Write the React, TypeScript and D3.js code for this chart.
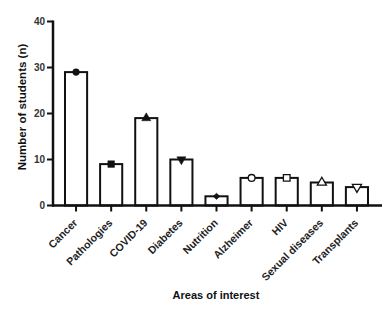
import React from "react";
import * as d3 from "d3";

const categories = ["Cancer", "Pathologies", "COVID-19", "Diabetes", "Nutrition", "Alzheimer", "HIV", "Sexual diseases", "Transplants"];
const values = [29, 9, 19, 10, 2, 6, 6, 5, 4];
const markers = ["circle", "square", "triangle", "triangleDown", "diamond", "circle", "square", "triangle", "triangleDown"];
const filled = [true, true, true, true, true, false, false, false, false];
const yTicks = [0, 10, 20, 30, 40];

const W = 386, H = 309;
const axisX = 53, axisY = 205.5, axisEnd = 382;

export default function App() {
  const x = d3.scaleBand<string>().domain(categories).range([58.5, 374.5]).paddingInner(0.37).paddingOuter(0.185);
  const y = d3.scaleLinear().domain([0, 40]).range([axisY, 21.5]);
  const bw = x.bandwidth();
  const font = "Liberation Sans, Arial, sans-serif";

  const markerPath = (type: string, cx: number, cy: number) => {
    const sym = {
      circle: d3.symbolCircle,
      square: d3.symbolSquare,
      triangle: d3.symbolTriangle,
      triangleDown: d3.symbolTriangle,
      diamond: d3.symbolDiamond,
    }[type] as d3.SymbolType;
    const size = type === "diamond" ? 20 : type.startsWith("triangle") ? 36 : type === "square" ? 44 : 36;
    const p = d3.symbol().type(sym).size(size)() as string;
    const rot = type === "triangleDown" ? 180 : 0;
    const sc = type === "diamond" ? "scale(1.4,0.75)" : "";
    return { p, transform: `translate(${cx},${cy}) rotate(${rot}) ${sc}` };
  };

  return (
    <svg width={W} height={H} style={{ position: "absolute", left: 0, top: 0, background: "#fff" }} fontFamily={font}>
      {categories.map((c, i) => {
        const x0 = x(c)!;
        const yv = y(values[i]);
        return (
          <rect key={c} x={x0} y={yv} width={bw} height={axisY - yv} fill="#fff" stroke="#111" strokeWidth={2} />
        );
      })}
      {categories.map((c, i) => {
        const cx = x(c)! + bw / 2;
        const cy = y(values[i]);
        const m = markerPath(markers[i], cx, cy);
        return (
          <path key={"m" + c} d={m.p} transform={m.transform} fill={filled[i] ? "#111" : "#fff"} stroke="#111" strokeWidth={filled[i] ? 0.5 : 1.3} />
        );
      })}
      <line x1={axisX} x2={axisX} y1={y(40) - 1} y2={axisY + 1} stroke="#111" strokeWidth={2.5} />
      {yTicks.map((t) => (
        <g key={t}>
          <line x1={axisX - 6} x2={axisX} y1={y(t)} y2={y(t)} stroke="#111" strokeWidth={2} />
          <text x={axisX - 8} y={y(t)} dy="0.35em" textAnchor="end" fontSize={10} fontWeight="bold" fill="#333">{t}</text>
        </g>
      ))}
      <line x1={axisX - 1} x2={axisEnd} y1={axisY} y2={axisY} stroke="#111" strokeWidth={2.5} />
      {categories.map((c) => {
        const cx = x(c)! + bw / 2;
        return (
          <g key={"t" + c}>
            <line x1={cx} x2={cx} y1={axisY} y2={axisY + 6} stroke="#111" strokeWidth={2} />
            <text transform={`translate(${cx + 2},${axisY + 18}) rotate(-45)`} textAnchor="end" fontSize={10.6} fontWeight="bold" fill="#222">{c}</text>
          </g>
        );
      })}
      <text transform={`translate(22,107) rotate(-90)`} textAnchor="middle" dy="0.35em" fontSize={11.5} fontWeight="bold" fill="#111">Number of students (n)</text>
      <text x={216} y={299} textAnchor="middle" fontSize={11} fontWeight="bold" fill="#111">Areas of interest</text>
    </svg>
  );
}
